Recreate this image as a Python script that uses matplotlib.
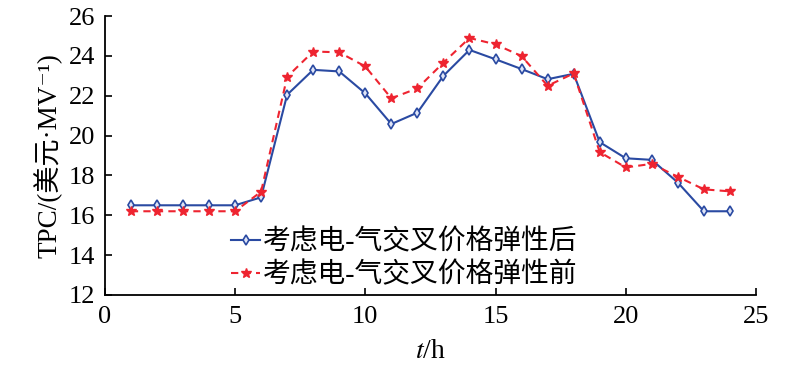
import matplotlib
matplotlib.use('Agg')
import matplotlib.pyplot as plt

# ── data ─────────────────────────────────────────────────────────────
hours = list(range(1, 25))
tpc_after = [16.5, 16.5, 16.5, 16.5, 16.5, 16.9, 22.05, 23.3, 23.22, 22.12,
             20.58, 21.15, 23.0, 24.3, 23.83, 23.34, 22.83, 23.1, 19.67, 18.86,
             18.78, 17.64, 16.2, 16.2]
tpc_before = [16.2, 16.2, 16.2, 16.2, 16.2, 17.18, 22.95, 24.22, 24.18, 23.47,
              21.87, 22.37, 23.66, 24.9, 24.58, 23.99, 22.5, 23.12, 19.17, 18.4,
              18.58, 17.93, 17.3, 17.2]
label_after = "考虑电-气交叉价格弹性后"
label_before = "考虑电-气交叉价格弹性前"

BLUE = "#2a4aa2"
RED = "#ee2430"
FAM = ["Liberation Serif", "Noto Sans CJK SC", "DejaVu Serif"]

plt.rcParams['font.family'] = FAM
plt.rcParams['mathtext.fontset'] = 'stix'

fig = plt.figure(figsize=(8, 3.65), dpi=100)
ax = fig.add_axes([0.131, 0.192, 0.814, 0.764])

ax.plot(hours, tpc_after, color=BLUE, lw=1.5, marker='d', markersize=5,
        markerfacecolor="#dfe5f7", markeredgecolor=BLUE, markeredgewidth=1.2,
        label=label_after)
ax.plot(hours, tpc_before, color=RED, lw=1.5, ls=(0, (3.5, 2.5)), marker='*',
        markersize=7, markerfacecolor=RED, markeredgecolor=RED,
        label=label_before)

ax.set_xlim(0, 25)
ax.set_ylim(12, 26)
ax.set_xticks(range(0, 26, 5))
ax.set_yticks(range(12, 27, 2))
ax.tick_params(direction='in', length=5, width=1.2, labelsize=19)
ax.tick_params(axis='y', pad=7)
ax.tick_params(axis='x', pad=8)
for s in ["top", "right"]:
    ax.spines[s].set_visible(False)
for s in ["left", "bottom"]:
    ax.spines[s].set_linewidth(1.3)

ax.set_xlabel("$t$/h", fontsize=20, labelpad=8)
ax.set_ylabel("TPC/(美元·MV⁻¹)", fontsize=19.5, labelpad=4)

leg = ax.legend(loc="lower left", bbox_to_anchor=(0.177, -0.016), frameon=False,
                fontsize=20, handlelength=1.05, handletextpad=0.1,
                labelspacing=0.22, borderaxespad=0.2, borderpad=0.2)

fig.savefig("out.png", dpi=100)
